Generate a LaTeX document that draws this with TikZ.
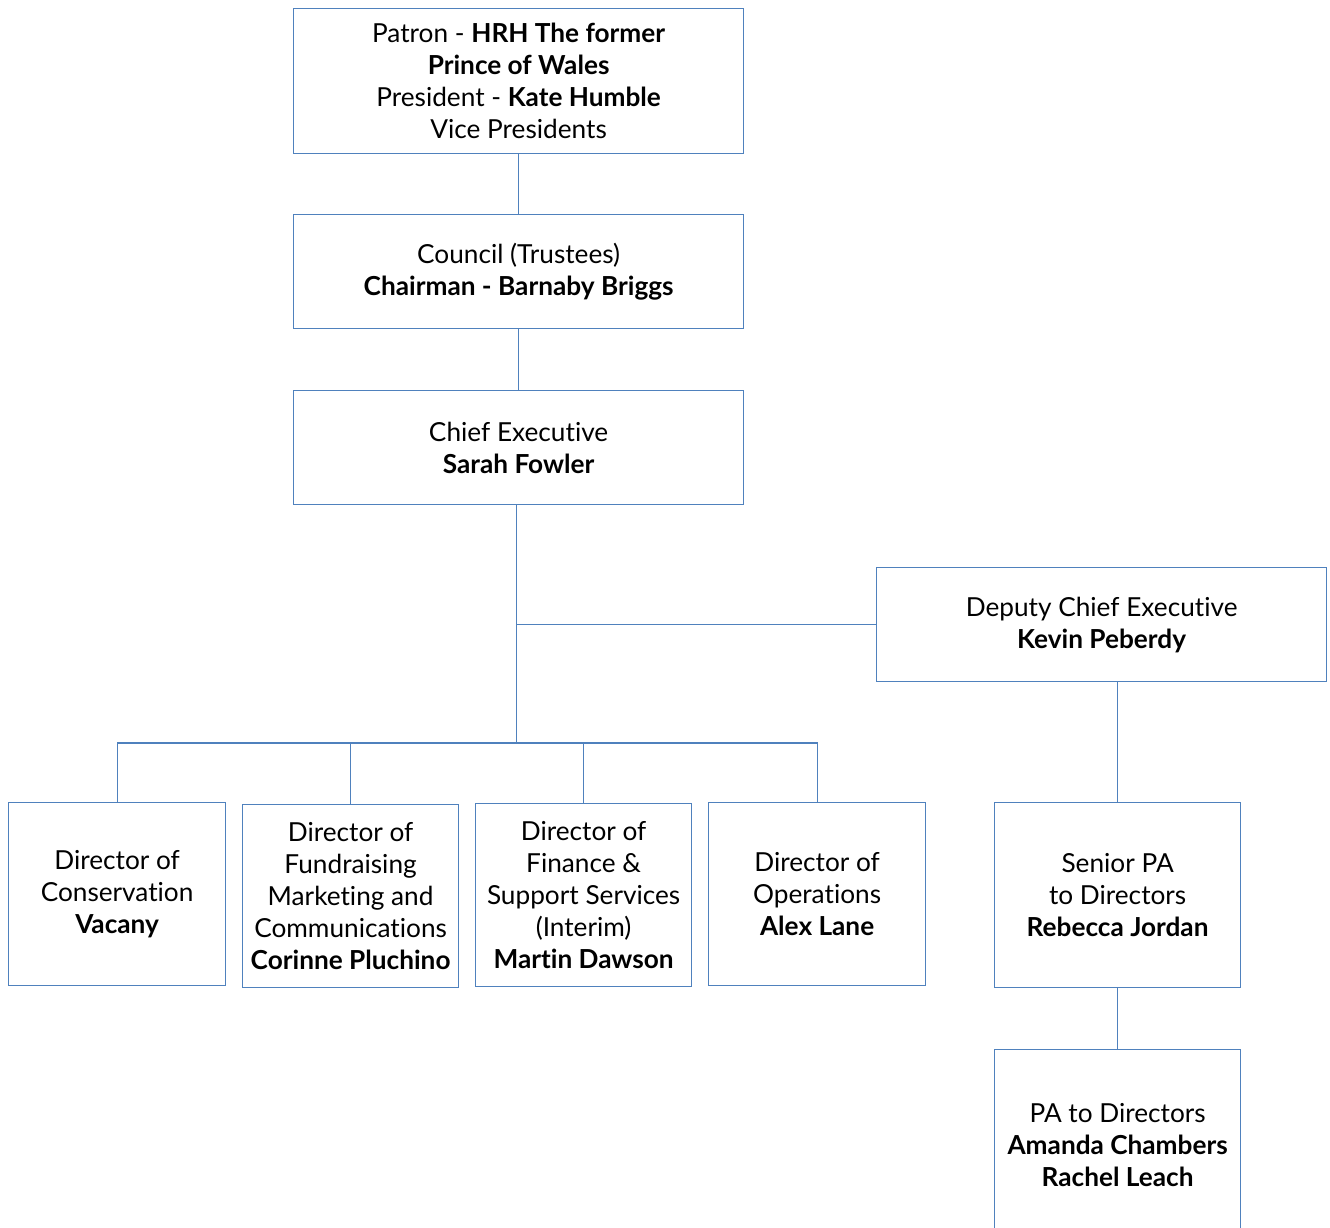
\documentclass[tikz,border=0pt]{standalone}
\usepackage{fontspec}
\setmainfont{Lato}[Ligatures=NoCommon]
\definecolor{boxblue}{RGB}{79,129,189}
\tikzset{
  box/.style={draw=boxblue, line width=1.2bp, anchor=north west, align=center, inner sep=0pt,
    font=\fontsize{26.3}{32}\selectfont, text=black},
  conn/.style={draw=boxblue, line width=1.2bp}
}
\begin{document}
\begin{tikzpicture}[x=1bp,y=-1bp]
\useasboundingbox (0,0) rectangle (1330,1227);
\node[box, minimum width=450bp, minimum height=145bp] (patron) at (293,8)
  {Patron - \textbf{HRH The former}\\ \textbf{Prince of Wales}\\ President - \textbf{Kate Humble}\\ Vice Presidents};
\node[box, minimum width=450bp, minimum height=114bp] (council) at (293,214)
  {Council (Trustees)\\ \textbf{Chairman - Barnaby Briggs}};
\node[box, minimum width=450bp, minimum height=114bp] (chief) at (293,390)
  {Chief Executive\\ \textbf{Sarah Fowler}};
\node[box, minimum width=450bp, minimum height=114bp] (deputy) at (876,567)
  {Deputy Chief Executive\\ \textbf{Kevin Peberdy}};
\node[box, minimum width=217bp, minimum height=183bp] (cons) at (8,802)
  {Director of\\ Conservation\\ \textbf{Vacany}};
\node[box, minimum width=216bp, minimum height=183bp] (fund) at (242,804)
  {Director of\\ Fundraising\\ Marketing and\\ Communications\\ \textbf{Corinne Pluchino}};
\node[box, minimum width=216bp, minimum height=183bp] (fin) at (475,803)
  {Director of\\ Finance \&\\ Support Services\\ (Interim)\\ \textbf{Martin Dawson}};
\node[box, minimum width=217bp, minimum height=183bp] (ops) at (708,802)
  {Director of\\ Operations\\ \textbf{Alex Lane}};
\node[box, minimum width=246bp, minimum height=185bp] (senior) at (994,802)
  {Senior PA\\ to Directors\\ \textbf{Rebecca Jordan}};
\node[box, minimum width=246bp, minimum height=190bp, text depth=0pt] (pa) at (994,1049)
  {PA to Directors\\ \textbf{Amanda Chambers}\\ \textbf{Rachel Leach}};
\coordinate (bus) at (516,743);
\draw[conn] (patron.south) -- (council.north);
\draw[conn] (council.south) -- (chief.north);
\draw[conn] ([xshift=-2bp]chief.south) coordinate (cs) -- (cs |- bus);
\draw[conn] (cs |- deputy.west) -- (deputy.west);
\draw[conn] (cons.north) -- (cons.north |- bus) -- (ops.north |- bus) -- (ops.north);
\draw[conn] (fund.north) -- (fund.north |- bus);
\draw[conn] (fin.north) -- (fin.north |- bus);
\draw[conn] (senior.north |- deputy.south) -- (senior.north);
\draw[conn] (senior.south) -- (pa.north);
\end{tikzpicture}
\end{document}
